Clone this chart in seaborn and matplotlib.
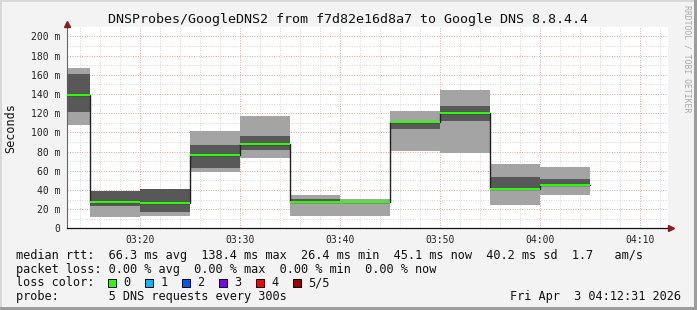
import numpy as np
import pandas as pd
import seaborn as sns
import matplotlib
matplotlib.use("Agg")
import matplotlib.pyplot as plt
from matplotlib.patches import Rectangle
from matplotlib.ticker import FixedLocator, MultipleLocator

# ---------------- data ----------------
times = ["03:15", "03:20", "03:25", "03:30", "03:35", "03:40",
         "03:45", "03:50", "03:55", "04:00", "04:05"]          # end of each 5-min step
ping1 = [107.6, 12.1, 12.8, 59.0, 73.6, 13.2, 12.8, 80.5, 78.8, 24.6, 35.0]
ping2 = [121.0, 23.5, 17.0, 62.8, 81.6, 26.9, 26.5, 103.4, 111.8, 40.8, 44.8]
median = [138.4, 27.4, 26.4, 76.7, 88.1, 27.4, 27.1, 110.7, 120.4, 41.3, 45.1]
ping4 = [160.7, 38.9, 40.9, 86.8, 96.1, 30.5, 28.2, 111.5, 127.4, 53.4, 51.4]
ping5 = [167.0, 39.3, 41.2, 101.4, 117.0, 34.4, 30.2, 122.2, 144.0, 67.0, 63.9]

xtick_labels = ["03:20", "03:30", "03:40", "03:50", "04:00", "04:10"]
ytick_values = [0, 20, 40, 60, 80, 100, 120, 140, 160, 180, 200]
ytick_labels = ["0", "20 m", "40 m", "60 m", "80 m", "100 m", "120 m",
                "140 m", "160 m", "180 m", "200 m"]

title = "DNSProbes/GoogleDNS2 from f7d82e16d8a7 to Google DNS 8.8.4.4"
legend_line1 = "median rtt:  66.3 ms avg  138.4 ms max  26.4 ms min  45.1 ms now  40.2 ms sd  1.7   am/s"
legend_line2 = "packet loss: 0.00 % avg  0.00 % max  0.00 % min  0.00 % now"
legend_line3 = "loss color:"
legend_line4 = "probe:       5 DNS requests every 300s"
loss_labels = ["0", "1", "2", "3", "4", "5/5"]
loss_colors = ["#26ff00", "#00b8ff", "#0059ff", "#7e00ff", "#ff0000", "#a10000"]
date_text = "Fri Apr  3 04:12:31 2026"

# ---------------- setup ----------------
W, H = 697, 310
sns.set_theme(style="white")
plt.rcParams['font.family'] = ['DejaVu Sans Mono', 'DejaVu Sans']

def fx(x):
    return x / W

def fy(y):
    return 1 - y / H

fig = plt.figure(figsize=(W / 100, H / 100), dpi=100, facecolor="#f3f3f3")
ax = fig.add_axes([fx(67), fy(228.3), (668.3 - 67) / W, (228.3 - 27.3) / H])
ax.set_facecolor("white")

def tmin(s):
    h, m = s.split(":")
    return (int(h) - 3) * 60 + int(m)

end = np.array([tmin(t) for t in times], dtype=float)
start = end - 5
p1, p2, med, p4, p5 = map(np.array, (ping1, ping2, median, ping4, ping5))

# smoke
ax.bar(start, p5 - p1, bottom=p1, width=5, align="edge", color="#a4a4a4",
       linewidth=0, zorder=2)
ax.bar(start, p4 - p2, bottom=p2, width=5, align="edge", color="#585858",
       linewidth=0, zorder=3)

# median step line
df = pd.DataFrame({"t": np.append(start, end[-1]), "ms": np.append(med, med[-1])})
sns.lineplot(data=df, x="t", y="ms", drawstyle="steps-post", color="#202020",
             linewidth=1.0, ax=ax, zorder=4, estimator=None)

# green median band
ax.bar(start, 2.1, bottom=med - 1.05, width=5, align="edge", color="#26ff00",
       linewidth=0, zorder=5)

# axes limits / ticks
ax.set_xlim(12.67, 72.8)
ax.set_ylim(0, 209.4)
ax.xaxis.set_major_locator(FixedLocator([tmin(t) for t in xtick_labels]))
ax.set_xticklabels(xtick_labels)
ax.xaxis.set_minor_locator(MultipleLocator(2))
ax.yaxis.set_major_locator(FixedLocator(ytick_values))
ax.set_yticklabels(ytick_labels)
ax.yaxis.set_minor_locator(MultipleLocator(10))
ax.set_xlabel("")
ax.set_ylabel("")

ax.set_axisbelow(True)
ax.grid(which="minor", color="#d6d6d6", linestyle=(0, (1, 1.5)), linewidth=0.7)
ax.grid(which="major", color="#f0a0a0", linestyle=(0, (1, 1.5)), linewidth=0.7)

ax.tick_params(axis="x", which="major", length=2.2, width=0.7, color="black",
               pad=2.5, labelsize=7, labelcolor="#222222", direction="out")
ax.tick_params(axis="x", which="minor", length=1.4, width=0.7, color="black",
               direction="out")
ax.tick_params(axis="y", which="major", length=2.2, width=0.7, color="#555555",
               pad=2.8, labelsize=7, labelcolor="#222222", direction="out")
ax.tick_params(axis="y", which="minor", length=0)

for s in ("top", "right"):
    ax.spines[s].set_visible(False)
ax.spines["left"].set_color("#666666")
ax.spines["left"].set_linewidth(0.8)
ax.spines["bottom"].set_color("#111111")
ax.spines["bottom"].set_linewidth(0.9)

# arrows
ax.plot([0], [1 + 3 / 201], marker="^", markersize=4.5, color="#8b1a1a",
        transform=ax.transAxes, clip_on=False, zorder=10)
ax.plot([1 + 2.5 / 601], [0], marker=">", markersize=4.5, color="#8b1a1a",
        transform=ax.transAxes, clip_on=False, zorder=10)

# texts
fig.text(fx(347.8), fy(19), title, ha="center", va="center", fontsize=9.6,
         color="#111111")
fig.text(fx(11), fy(127.8), "Seconds", rotation=90, ha="center", va="center",
         fontsize=8.5, color="#111111")
fig.text(fx(687), fy(59), "RRDTOOL / TOBI OETIKER", rotation=270, ha="center",
         va="center", fontsize=5.9, color="#aaaaaa")

lfs = 8.55
fig.text(fx(16), fy(259), legend_line1, ha="left", va="baseline", fontsize=lfs,
         color="#111111")
fig.text(fx(16), fy(272.7), legend_line2, ha="left", va="baseline", fontsize=lfs,
         color="#111111")
fig.text(fx(16), fy(286.3), legend_line3, ha="left", va="baseline", fontsize=lfs,
         color="#111111")
for i, (lab, col) in enumerate(zip(loss_labels, loss_colors)):
    sx = 108.3 + 37 * i
    fig.add_artist(Rectangle((fx(sx), fy(286.7)), 7.8 / W, 7.8 / H,
                             transform=fig.transFigure, facecolor=col,
                             edgecolor="black", linewidth=0.7))
    fig.text(fx(sx + 15), fy(286.3), lab, ha="left", va="baseline", fontsize=lfs,
             color="#111111")
fig.text(fx(16), fy(300), legend_line4, ha="left", va="baseline", fontsize=lfs,
         color="#111111")
fig.text(fx(680.5), fy(300), date_text, ha="right", va="baseline", fontsize=lfs,
         color="#111111")

# border
fig.add_artist(Rectangle((0, fy(2)), 1, 2 / H, transform=fig.transFigure,
                         facecolor="#d8d8d8", edgecolor="none"))
fig.add_artist(Rectangle((0, 0), 2 / W, 1, transform=fig.transFigure,
                         facecolor="#d8d8d8", edgecolor="none"))
fig.add_artist(Rectangle((fx(694), 0), 3 / W, 1, transform=fig.transFigure,
                         facecolor="#9c9c9c", edgecolor="none"))
fig.add_artist(Rectangle((0, 0), 1, 3 / H, transform=fig.transFigure,
                         facecolor="#9c9c9c", edgecolor="none"))

fig.savefig("out.png", dpi=100, facecolor=fig.get_facecolor())
